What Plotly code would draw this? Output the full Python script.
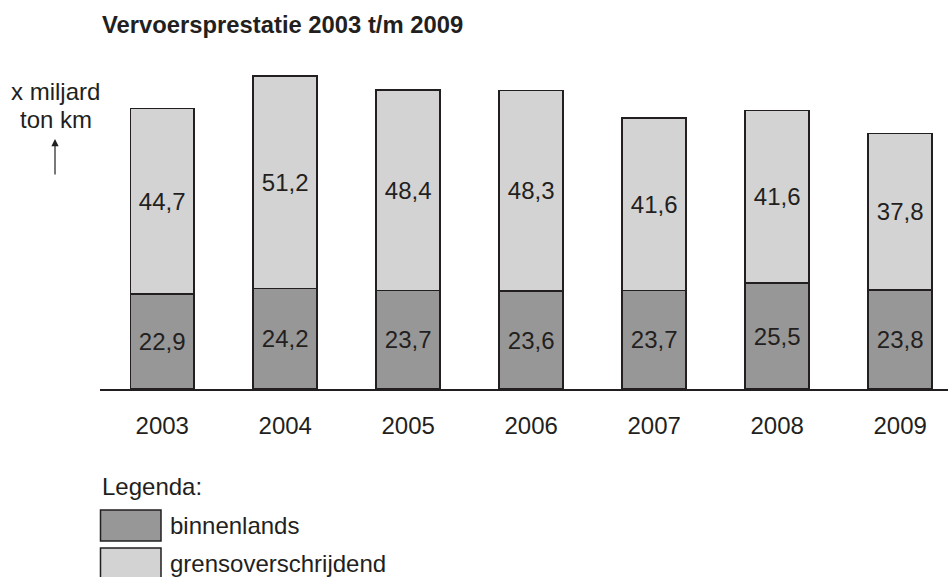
import plotly.graph_objects as go

years = ["2003", "2004", "2005", "2006", "2007", "2008", "2009"]
binnenlands = [22.9, 24.2, 23.7, 23.6, 23.7, 25.5, 23.8]
grensoverschrijdend = [44.7, 51.2, 48.4, 48.3, 41.6, 41.6, 37.8]

title_text = "Vervoersprestatie 2003 t/m 2009"
y_label_lines = ["x miljard", "ton km"]
legend_title = "Legenda:"
legend_names = ["binnenlands", "grensoverschrijdend"]

DARK = "#979797"
LIGHT = "#d3d3d3"
INK = "#231f20"
FONT = "Liberation Sans, Arial, sans-serif"

W, H = 948, 577
L, R, T, B = 100, 0, 57, 188
PW, PH = W - L - R, H - T - B


def px(x):
    return (x - L) / PW


def py(y):
    return (H - B - y) / PH


fig = go.Figure()
for name, vals, col in [(legend_names[0], binnenlands, DARK),
                        (legend_names[1], grensoverschrijdend, LIGHT)]:
    fig.add_trace(go.Bar(
        x=years, y=vals, name=name,
        marker=dict(color=col, line=dict(color=INK, width=1.5)),
        width=0.52,
        texttemplate="%{y:.1f}",
        textposition="inside",
        insidetextanchor="middle",
        textangle=0,
        textfont=dict(family=FONT, size=24, color=INK),
        cliponaxis=False,
        showlegend=False,
    ))

shapes = []
annotations = []

# title
annotations.append(dict(text="<b>" + title_text + "</b>", xref="paper", yref="paper",
                        x=px(100), y=py(25), xanchor="left", yanchor="middle",
                        showarrow=False, font=dict(family=FONT, size=23.8, color=INK)))
# y label
for i, line in enumerate(y_label_lines):
    annotations.append(dict(text=line, xref="paper", yref="paper",
                            x=px(55.5), y=py(91 + 28 * i), xanchor="center", yanchor="middle",
                            showarrow=False, font=dict(family=FONT, size=24, color=INK)))
# arrow
annotations.append(dict(text="", xref="paper", yref="paper", axref="pixel", ayref="pixel",
                        x=px(55), y=py(139), ax=0, ay=37, showarrow=True,
                        arrowhead=2, arrowsize=1.2, arrowwidth=1.2, arrowcolor=INK))

# legend
annotations.append(dict(text=legend_title, xref="paper", yref="paper",
                        x=px(100), y=py(486), xanchor="left", yanchor="middle",
                        showarrow=False, font=dict(family=FONT, size=24, color=INK)))
for i, (name, col) in enumerate(zip(legend_names, [DARK, LIGHT])):
    top = 510 + 38 * i
    shapes.append(dict(type="rect", xref="paper", yref="paper",
                       x0=px(100.5), x1=px(161), y0=py(top), y1=py(top + 31),
                       fillcolor=col, line=dict(color=INK, width=1.5)))
    annotations.append(dict(text=name, xref="paper", yref="paper",
                            x=px(168), y=py(top + 15), xanchor="left", yanchor="middle",
                            showarrow=False, font=dict(family=FONT, size=24, color=INK)))

fig.update_layout(
    barmode="stack",
    width=W, height=H,
    margin=dict(l=L, r=R, t=T, b=B, pad=0),
    paper_bgcolor="white", plot_bgcolor="white",
    separators=",.",
    font=dict(family=FONT, size=24, color=INK),
    shapes=shapes,
    annotations=annotations,
    xaxis=dict(type="category", range=[-0.506, 6.389], showline=True, linecolor=INK,
               linewidth=2, ticks="", showgrid=False, zeroline=False,
               tickfont=dict(family=FONT, size=24, color=INK), ticklabelstandoff=14),
    yaxis=dict(range=[0, 80], visible=False, showgrid=False, zeroline=False),
)

fig.write_html("out.html", config={"displayModeBar": False},
               post_script="document.body.style.margin='0';document.body.style.overflow='hidden';")
